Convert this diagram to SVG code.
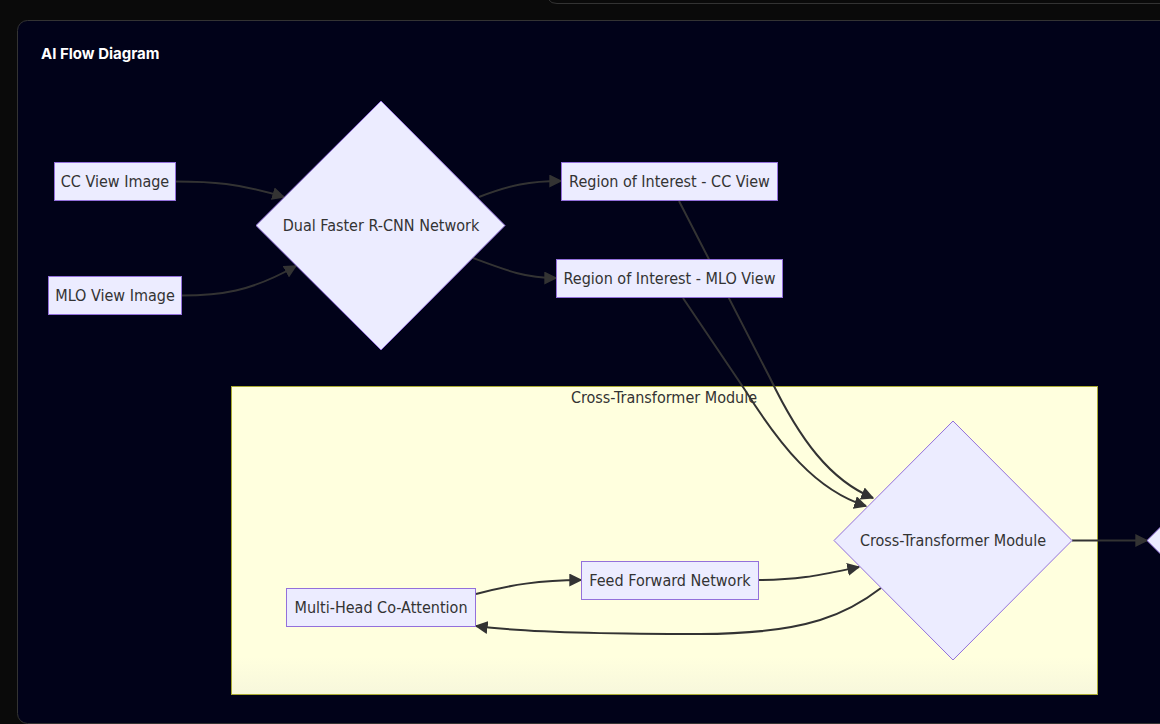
<svg xmlns="http://www.w3.org/2000/svg" width="1160" height="724" viewBox="0 0 1160 724">
  <defs>
    <style>
      .node { fill: #ECECFF; stroke: #9370DB; stroke-width: 1; }
      .lbl { font-family: "DejaVu Sans Condensed", "DejaVu Sans", sans-serif; font-stretch: condensed; font-size: 16px; fill: #333333; text-anchor: middle; }
      .edge { fill: none; stroke: #333333; stroke-width: 2; }
      .title { font-family: Inter, "Liberation Sans", sans-serif; font-size: 15px; font-weight: 700; fill: #ffffff; }
    </style>
    <marker id="arrow" viewBox="0 0 10 10" refX="9" refY="5" markerWidth="13" markerHeight="13" markerUnits="userSpaceOnUse" orient="auto">
      <path d="M0,0 L10,5 L0,10 z" fill="#333333"/>
    </marker>
    <linearGradient id="sgfill" x1="0" y1="0" x2="0" y2="1">
      <stop offset="0.88" stop-color="#ffffde"/>
      <stop offset="1" stop-color="#f7f7dc"/>
    </linearGradient>
  </defs>

  <rect x="0" y="0" width="1160" height="724" fill="#0a0a0a"/>
  <path d="M549,0 Q551,3.5 557,3.5 H1160" fill="none" stroke="#333333" stroke-width="1"/>
  <rect x="17.5" y="20.5" width="1200" height="703" rx="10" ry="10" fill="#010219" stroke="#333333" stroke-width="1"/>
  <text class="title" x="41" y="59">AI Flow Diagram</text>

  <g id="subgraph-cross-transformer">
    <rect x="231.5" y="386.5" width="866" height="308" fill="url(#sgfill)" stroke="#aaaa33" stroke-width="1"/>
    <text class="lbl" x="664" y="403">Cross-Transformer Module</text>
  </g>

  <g id="connectors">
    <path class="edge" marker-end="url(#arrow)" d="M175,181.5 C212,181.5 238,183 284,197"/>
    <path class="edge" marker-end="url(#arrow)" d="M181,295.5 C220,295.5 250,292 296,266"/>
    <path class="edge" marker-end="url(#arrow)" d="M479,197 C510,185 530,181 561,181"/>
    <path class="edge" marker-end="url(#arrow)" d="M473,258 C505,270 525,278 556,278"/>
    <path class="edge" marker-end="url(#arrow)" d="M679,201 L770,378 C800,440 830,480 873,498"/>
    <path class="edge" marker-end="url(#arrow)" d="M683,298 L745,390 C780,445 815,490 866,506"/>
    <path class="edge" marker-end="url(#arrow)" d="M476,594 C510,585 540,580 581,580"/>
    <path class="edge" marker-end="url(#arrow)" d="M759,580 C800,580 820,575 859,567"/>
    <path class="edge" marker-end="url(#arrow)" d="M881,588 C850,612 810,634 700,634 C600,634 520,632 476,626"/>
    <path class="edge" marker-end="url(#arrow)" d="M1072,540.5 L1147,540.5"/>
  </g>

  <g id="node-cc-view">
    <rect class="node" x="54.5" y="162.5" width="121" height="38"/>
    <text class="lbl" x="115" y="187">CC View Image</text>
  </g>
  <g id="node-mlo-view">
    <rect class="node" x="48.5" y="276.5" width="133" height="38"/>
    <text class="lbl" x="115" y="301">MLO View Image</text>
  </g>
  <g id="node-dual-rcnn">
    <polygon class="node" points="381,101 505,225.5 381,350 256,225.5"/>
    <text class="lbl" x="381" y="231">Dual Faster R-CNN Network</text>
  </g>
  <g id="node-roi-cc">
    <rect class="node" x="561.5" y="162.5" width="216" height="38"/>
    <text class="lbl" x="669.5" y="187">Region of Interest - CC View</text>
  </g>
  <g id="node-roi-mlo">
    <rect class="node" x="556.5" y="259.5" width="226" height="38"/>
    <text class="lbl" x="669.5" y="284">Region of Interest - MLO View</text>
  </g>
  <g id="node-cross-transformer">
    <polygon class="node" points="953,421 1072,540.5 953,660 834,540.5"/>
    <text class="lbl" x="953" y="546">Cross-Transformer Module</text>
  </g>
  <g id="node-feed-forward">
    <rect class="node" x="581.5" y="561.5" width="177" height="38"/>
    <text class="lbl" x="670" y="586">Feed Forward Network</text>
  </g>
  <g id="node-multi-head">
    <rect class="node" x="286.5" y="588.5" width="189" height="38"/>
    <text class="lbl" x="381" y="613">Multi-Head Co-Attention</text>
  </g>
  <g id="node-next">
    <polygon class="node" points="1147,540.5 1267,421 1387,540.5 1267,660"/>
  </g>
</svg>
